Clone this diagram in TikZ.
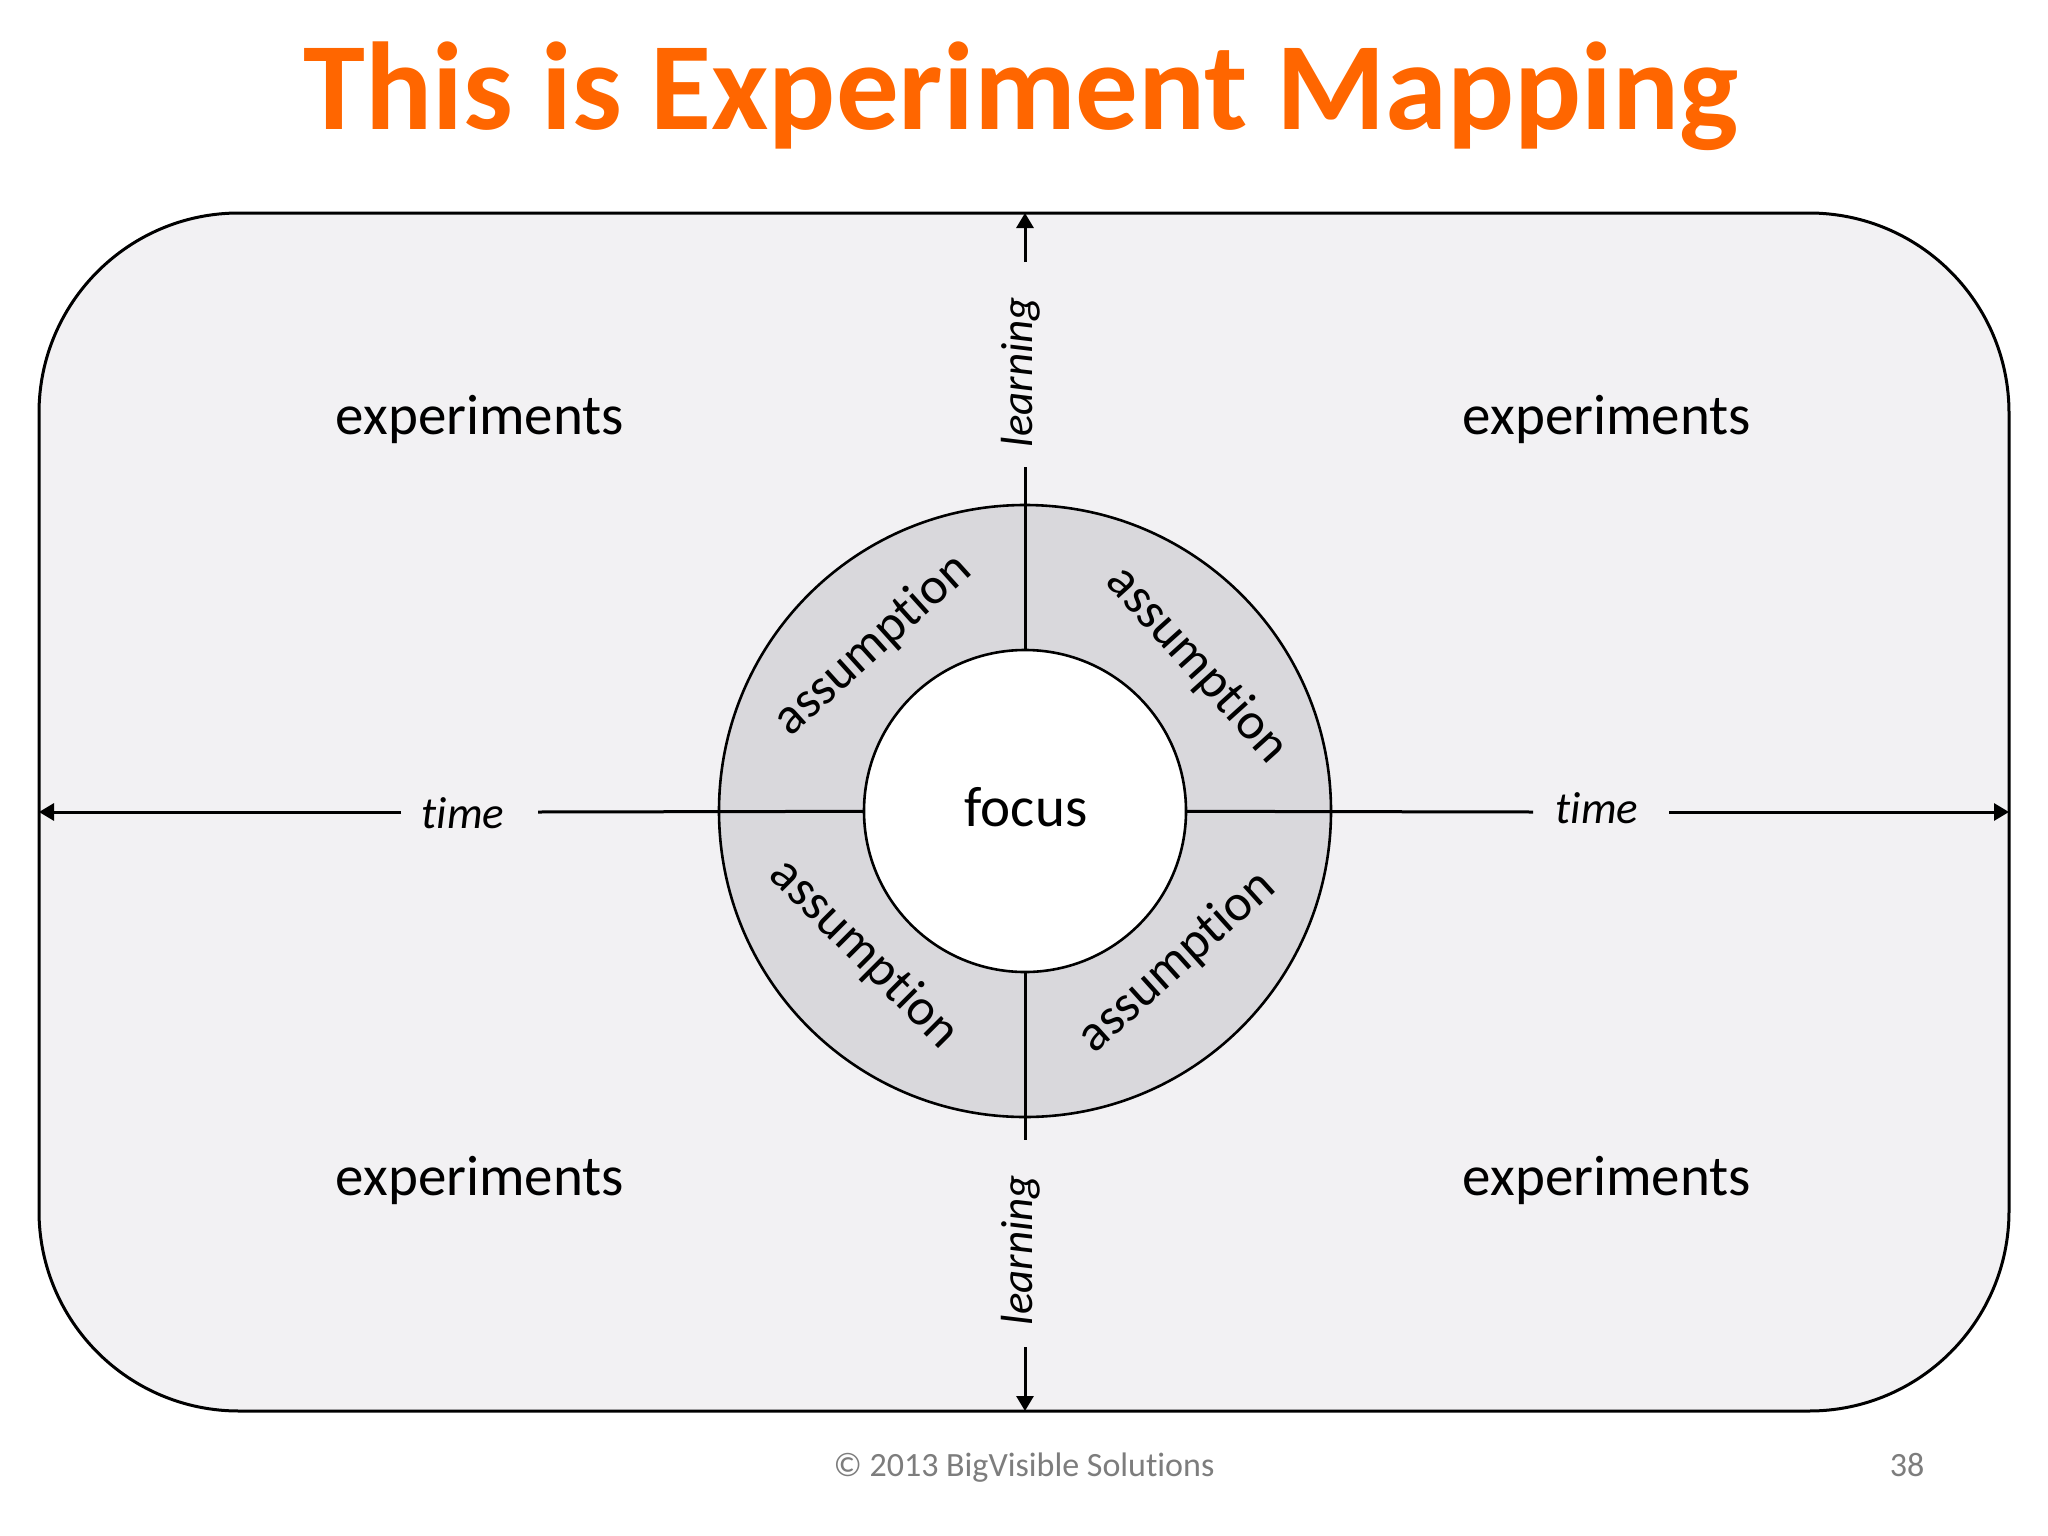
\documentclass[tikz,border=0pt]{standalone}
\usepackage{fontspec}
\setmainfont{Carlito}[Ligatures=NoCommon]
\usetikzlibrary{arrows.meta}
\definecolor{titleorange}{RGB}{255,102,0}
\definecolor{panelfill}{RGB}{242,241,243}
\definecolor{ringfill}{RGB}{217,216,220}
\definecolor{footgray}{RGB}{125,125,125}
\begin{document}
\begin{tikzpicture}[x=1pt,y=-1pt,
  titletext/.style={inner sep=0pt, anchor=base, text=titleorange, font=\fontsize{125}{140}\selectfont\bfseries},
  bigtext/.style={inner sep=0pt, anchor=base, font=\fontsize{57}{62}\selectfont},
  ringtext/.style={inner sep=0pt, font=\fontsize{52}{60}\selectfont},
  axislabel/.style={inner sep=0pt, font=\fontsize{45}{50}\selectfont\itshape},
  foottext/.style={inner sep=0pt, anchor=base, text=footgray, font=\fontsize{34}{38}\selectfont},
  axisline/.style={line width=3pt},
  axisarrow/.style={line width=3pt, -{Triangle[length=15pt,width=17pt]}},
  ringline/.style={line width=2.6pt}]
\useasboundingbox (0,0) rectangle (2048,1536);
\fill[white] (0,0) rectangle (2048,1536);
% panel
\draw[line width=3pt, fill=panelfill, rounded corners=200pt] (39,213) rectangle (2009,1411);
% title
\node[titletext] (title) at (1021,130) {This is Experiment Mapping};
% ring
\coordinate (c) at (1025,811);
\node[circle, draw, ringline, fill=ringfill, minimum size=612pt, inner sep=0pt] (outer) at (c) {};
% axis coordinates
\coordinate (topend) at (1025,213);
\coordinate (topgapA) at (1025,262);
\coordinate (topgapB) at (1025,467);
\coordinate (botgapA) at (1025,1140);
\coordinate (botgapB) at (1025,1347);
\coordinate (botend) at (1025,1411);
\coordinate (leftend) at (39,812);
\coordinate (leftgapA) at (401,812);
\coordinate (leftgapB) at (538,812);
\coordinate (rightgapA) at (1533,812);
\coordinate (rightgapB) at (1669,812);
\coordinate (rightend) at (2009,812);
% axis lines
\draw[axisarrow] (topgapA) -- (topend);
\draw[axisline] (topgapB) -- (c);
\draw[axisline] (c) -- (botgapA);
\draw[axisarrow] (botgapB) -- (botend);
\draw[axisarrow] (leftgapA) -- (leftend);
\draw[axisline] (leftgapB) -- (c);
\draw[axisline] (c) -- (rightgapA);
\draw[axisarrow] (rightgapB) -- (rightend);
% inner circle
\node[circle, draw, ringline, fill=white, minimum size=322pt, inner sep=0pt] (inner) at (c) {};
\node[bigtext] (focus) at (1026,826) {focus};
% assumptions
\node[ringtext, rotate=42] (asTL) at (873,645) {assumption};
\node[ringtext, rotate=-48] (asTR) at (1197,665) {assumption};
\node[ringtext, rotate=-45] (asBL) at (864,954) {assumption};
\node[ringtext, rotate=42] (asBR) at (1177,962) {assumption};
% axis labels
\node[axislabel, rotate=90] (learnT) at (1021,372) {learning};
\node[axislabel, rotate=90] (learnB) at (1021,1250) {learning};
\node[axislabel, anchor=base] (timeL) at (463,828) {time};
\node[axislabel, anchor=base] (timeR) at (1597,823) {time};
% experiments
\node[bigtext] (expTL) at (480,434) {experiments};
\node[bigtext] (expTR) at (1607,434) {experiments};
\node[bigtext] (expBL) at (480,1195) {experiments};
\node[bigtext] (expBR) at (1607,1195) {experiments};
% footer
\node[foottext] (copy) at (1024,1476) {© 2013 BigVisible Solutions};
\node[foottext] (page) at (1907,1476) {38};
\end{tikzpicture}
\end{document}
